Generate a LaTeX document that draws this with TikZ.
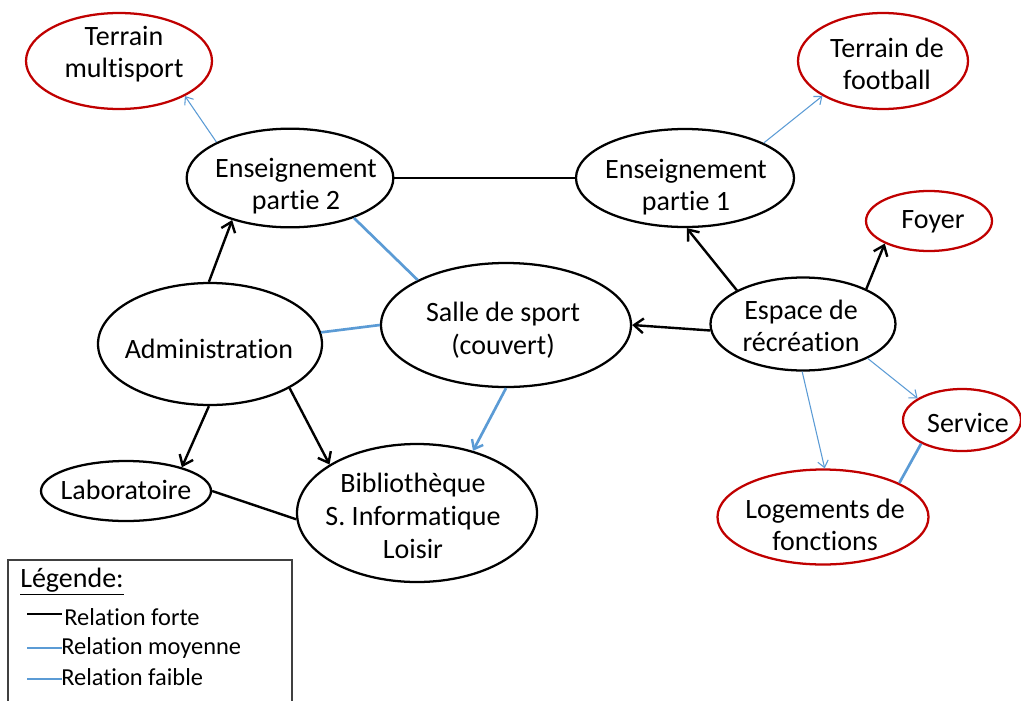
\documentclass[tikz,border=0pt]{standalone}
\usepackage{fontspec}
\setmainfont{Carlito}[Ligatures=NoCommon]
\usetikzlibrary{shapes.geometric,arrows.meta}
\definecolor{relblue}{RGB}{91,155,213}
\definecolor{zonered}{RGB}{192,0,0}
\begin{document}
\begin{tikzpicture}[x=0.75pt,y=-0.75pt,
  spot/.style 2 args={ellipse,draw=black,line width=1.7pt,fill=white,inner sep=0pt,
    minimum width=#1,minimum height=#2},
  outer/.style={draw=zonered},
  txt/.style={align=center,inner sep=0pt,font=\fontsize{21pt}{24.5pt}\selectfont},
  strong/.style={draw=black,line width=1.8pt},
  medium/.style={draw=relblue,line width=2pt},
  weak/.style={draw=relblue,line width=0.8pt},
  tipbig/.style={-{Straight Barb[length=7pt,width=11pt,line width=1.8pt]}},
  tipmed/.style={-{Straight Barb[length=6pt,width=9.5pt,line width=1.8pt]}},
  tipsmall/.style={-{Straight Barb[length=5pt,width=8pt,line width=0.8pt]}},
  legtxt/.style={anchor=west,inner sep=0pt,font=\fontsize{18.3pt}{22pt}\selectfont}
]
\useasboundingbox (0,0) rectangle (1021,700);

% ---- places ----
\node[spot={139.5pt}{72pt},outer] (tm) at (119,61) {};
\node[spot={127.5pt}{72pt},outer] (tf) at (883,61) {};
\node[spot={155pt}{74pt}] (ens2) at (290,178) {};
\node[spot={163.5pt}{73.5pt}] (ens1) at (685,178) {};
\node[spot={94.5pt}{45pt},outer] (foyer) at (929,221) {};
\node[spot={168pt}{91.5pt}] (admin) at (210,344) {};
\node[spot={187.5pt}{93pt}] (salle) at (506,325) {};
\node[spot={138.75pt}{69.75pt}] (espace) at (803,324) {};
\node[spot={88.5pt}{46.5pt},outer] (service) at (962,420) {};
\node[spot={127.5pt}{45pt}] (labo) at (126,491) {};
\node[spot={180pt}{103.5pt}] (biblio) at (417,513) {};
\node[spot={158.25pt}{71.25pt},outer] (logt) at (823,517) {};

% ---- labels ----
\node[txt] (tm-t) at (124,54) {Terrain\\multisport};
\node[txt] (tf-t) at (887,64) {Terrain de\\football};
\node[txt] (ens2-t) at (296,186) {Enseignement\\partie 2};
\node[txt] (ens1-t) at (686,187) {Enseignement\\partie 1};
\node[txt] (foyer-t) at (933,222) {Foyer};
\node[txt] (admin-t) at (209,349) {Administration};
\node[txt] (salle-t) at (503,330) {Salle de sport\\(couvert)};
\node[txt] (espace-t) at (801,326) {Espace de\\récréation};
\node[txt] (service-t) at (968,423) {Service};
\node[txt] (labo-t) at (126,490) {Laboratoire};
\node[txt] (biblio-t) at (413,516) {Bibliothèque\\S. Informatique\\Loisir};
\node[txt] (logt-t) at (825,525) {Logements de\\fonctions};

% ---- strong relations ----
\draw[strong] (ens2.east) -- (ens1.west);
\draw[strong,tipbig] (admin.91) -- (ens2.216);
\draw[strong,tipbig] (admin.-91) -- (labo.23);
\draw[strong,tipbig] (admin.-29) -- (biblio.151);
\draw[strong] (labo.east) -- (biblio.183);
\draw[strong,tipbig] (espace.184) -- (salle.east);
\draw[strong,tipbig] (espace.153) -- (ens1.-88);
\draw[strong,tipbig] (espace.29) -- (foyer.207);

% ---- medium relations ----
\draw[medium] (ens2.-32) -- (salle.153);
\draw[medium] (admin.6) -- (salle.west);
\draw[medium,tipmed] (salle.south) -- (biblio.48);
\draw[medium] (service.210) -- (logt.24);

% ---- weak relations ----
\draw[weak,tipsmall] (ens2.154) -- (tm.-28);
\draw[weak,tipsmall] (ens1.24) -- (tf.210);
\draw[weak,tipsmall] (espace.-28) -- (service.154);
\draw[weak,tipsmall] (espace.-91) -- (logt.88);

% ---- legend ----
\draw[draw=black!75,line width=1pt] (8,560) rectangle (292,706);
\node[legtxt,font=\fontsize{21pt}{24pt}\selectfont] (leg-title) at (20,582) {\underline{Légende:}};
\draw[strong] (27,614) -- (62,614);
\node[legtxt] (leg-strong) at (64,617) {Relation forte};
\draw[medium] (27,648) -- (62,648);
\node[legtxt] (leg-medium) at (61,648) {Relation moyenne};
\draw[weak] (27,679) -- (62,679);
\node[legtxt] (leg-weak) at (61,677) {Relation faible};
\end{tikzpicture}
\end{document}
